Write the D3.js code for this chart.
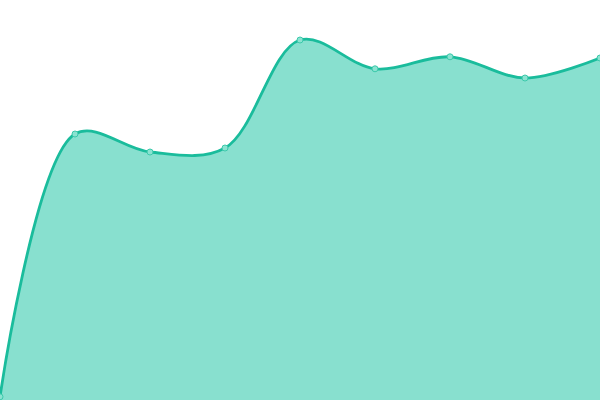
<!DOCTYPE html>
<html>
<head>
<meta charset="utf-8">
<script src="https://cdn.jsdelivr.net/npm/d3@7"></script>
<style>
  html, body { margin: 0; padding: 0; background: #fff; }
  svg { display: block; }
</style>
</head>
<body>
<script>
var width = 600
var height = 400

// one value per step
var steps = [0, 1, 2, 3, 4, 5, 6, 7, 8]
var values = [0.8, 66.5, 62, 63, 90, 82.8, 85.8, 80.5, 85.5]

var x = d3.scaleLinear().domain([0, steps.length - 1]).range([0, width])
var y = d3.scaleLinear().domain([0, 100]).range([height, 0])

var svg = d3.select("body").append("svg")
  .attr("width", width)
  .attr("height", height)

var curve = d3.curveCatmullRom.alpha(0.5)

var area = d3.area()
  .x(function (d, i) { return x(steps[i]) })
  .y0(height)
  .y1(function (d) { return y(d) })
  .curve(curve)

var line = d3.line()
  .x(function (d, i) { return x(steps[i]) })
  .y(function (d) { return y(d) })
  .curve(curve)

svg.append("path")
  .datum(values)
  .attr("d", area)
  .style("fill", "#88e0cf")

svg.append("path")
  .datum(values)
  .attr("d", line)
  .style("fill", "none")
  .style("stroke", "#1abc9c")
  .style("stroke-width", 2.8)

svg.selectAll(".dot")
  .data(values)
  .enter().append("circle")
  .attr("class", "dot")
  .attr("cx", function (d, i) { return x(steps[i]) })
  .attr("cy", function (d) { return y(d) })
  .attr("r", 3)
  .style("fill", "#8be3d1")
  .style("stroke", "#3cc9ab")
  .style("stroke-width", 1)
</script>
</body>
</html>
